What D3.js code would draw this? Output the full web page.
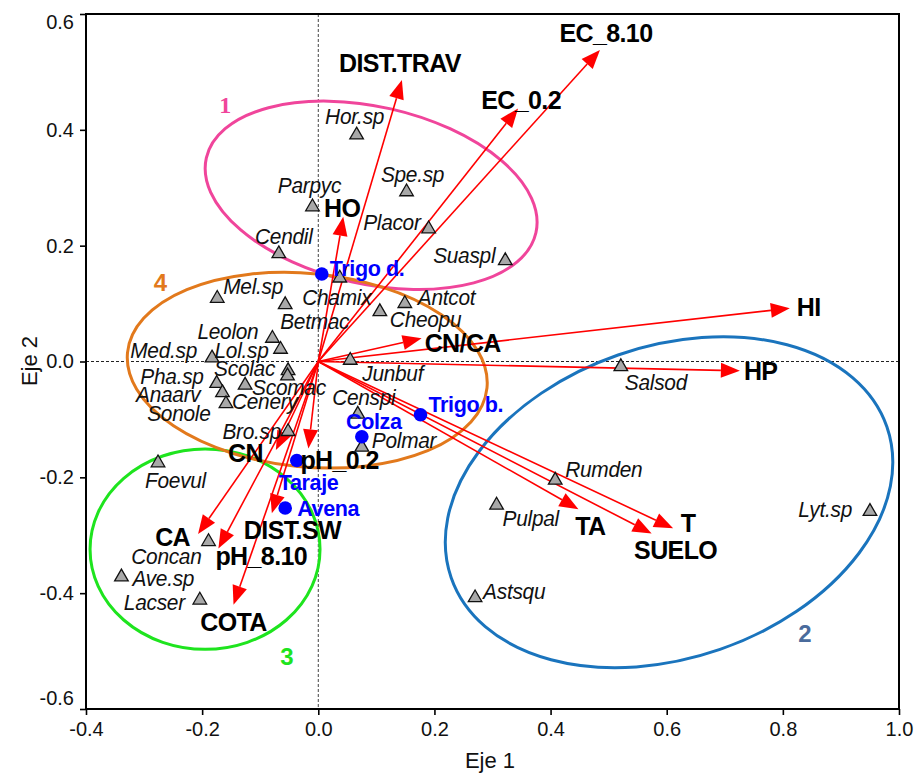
<!DOCTYPE html>
<html>
<head>
<meta charset="utf-8">
<script src="https://cdn.jsdelivr.net/npm/d3@7"></script>
<style>
  body { margin: 0; background: #fff; }
  svg { display: block; font-family: "Liberation Sans", Arial, sans-serif; }
</style>
</head>
<body>
<svg id="chart" width="915" height="773"></svg>
<script>
// ---- Species scores (axis 1, axis 2) ----
const speciesNames = ["Hor.sp","Spe.sp","Parpyc","Placor","Cendil","Suaspl","Chamix","Antcot","Cheopu",
  "Junbuf","Censpi","Polmar","Salsod","Rumden","Pulpal","Astsqu","Lyt.sp","Mel.sp","Betmac","Leolon",
  "Lol.sp","Med.sp","Scolac","Sonole","Scomac","Pha.sp","Anaarv","Cenery","Bro.sp","Foevul","Concan",
  "Ave.sp","Lacser"];
const speciesX = [0.066,0.152,-0.010,0.190,-0.068,0.322,0.037,0.149,0.106,
  0.055,0.068,0.075,0.521,0.408,0.307,0.270,0.950,-0.174,-0.057,-0.079,
  -0.065,-0.183,-0.052,-0.053,-0.126,-0.175,-0.165,-0.159,-0.052,-0.276,-0.189,
  -0.339,-0.204];
const speciesY = [0.391,0.293,0.267,0.229,0.186,0.174,0.144,0.100,0.086,
  0.002,-0.091,-0.148,-0.009,-0.205,-0.248,-0.408,-0.259,0.109,0.098,0.040,
  0.021,0.006,-0.016,-0.025,-0.041,-0.038,-0.054,-0.073,-0.121,-0.175,-0.311,
  -0.372,-0.412];

// ---- Sample scores ----
const sampleNames = ["Trigo d.","Trigo b.","Colza","Taraje","Avena"];
const sampleX = [0.006,0.176,0.075,-0.037,-0.057];
const sampleY = [0.151,-0.092,-0.130,-0.171,-0.253];

// ---- Environmental variables (arrow tips) ----
const varNames = ["DIST.TRAV","EC_8.10","EC_0.2","HO","HI","HP","CN/CA","TA","SUELO","T",
  "pH_0.2","CN","CA","pH_8.10","DIST.SW","COTA"];
const varX = [0.144,0.485,0.344,0.043,0.812,0.726,0.178,0.448,0.574,0.611,
  -0.017,-0.073,-0.207,-0.172,-0.080,-0.146];
const varY = [0.486,0.538,0.437,0.250,0.092,-0.016,0.040,-0.255,-0.297,-0.288,
  -0.150,-0.153,-0.298,-0.323,-0.262,-0.420];

// ---- Axis ticks ----
const xTicks = [-0.4,-0.2,0.0,0.2,0.4,0.6,0.8,1.0];
const yTicks = [-0.6,-0.4,-0.2,0.0,0.2,0.4,0.6];
const xTickLabels = ["-0.4","-0.2","0.0","0.2","0.4","0.6","0.8","1.0"];
const yTickLabels = ["-0.6","-0.4","-0.2","0.0","0.2","0.4","0.6"];

// ---- Group ellipses (centre, semi-axes in axis units, rotation in degrees) ----
const groupIds = ["1","2","3","4"];
const groupEllipses = {
  "1": {cx: 0.091, cy: 0.287, rx: 0.291, ry: 0.153, angle: 12.8, color: "#f0459b",
        lx: -0.160, ly: 0.443, font: "'Liberation Serif', 'Times New Roman', serif", weight: "bold", lcolor: "#f0459b"},
  "2": {cx: 0.604, cy: -0.243, rx: 0.397, ry: 0.269, angle: -19.1, color: "#1a74bd",
        lx: 0.838, ly: -0.469, font: "'Liberation Sans', Arial, sans-serif", weight: "bold", lcolor: "#4a6b9c"},
  "3": {cx: -0.195, cy: -0.324, rx: 0.198, ry: 0.173, angle: 0, color: "#1ee41e",
        lx: -0.054, ly: -0.510, font: "'Liberation Sans', Arial, sans-serif", weight: "bold", lcolor: "#1ee41e"},
  "4": {cx: -0.019, cy: -0.015, rx: 0.311, ry: 0.167, angle: 5.6, color: "#e2791c",
        lx: -0.272, ly: 0.137, font: "'Liberation Sans', Arial, sans-serif", weight: "bold", lcolor: "#e2791c"}
};

// ---- Label placement (pixel offsets from each point, text anchor) ----
const speciesLabelPos = {
  "Hor.sp":["middle",-2,-19], "Spe.sp":["middle",6,-18], "Parpyc":["middle",-3,-22],
  "Placor":["end",-8,-7], "Cendil":["middle",5,-17], "Suaspl":["end",-10,-5],
  "Chamix":["middle",-3,19], "Antcot":["start",13,-6], "Cheopu":["start",10,8],
  "Junbuf":["start",12,13], "Censpi":["middle",6,-17], "Polmar":["start",10,-7],
  "Salsod":["start",4,16], "Rumden":["start",10,-11], "Pulpal":["start",6,13],
  "Astsqu":["start",8,-7], "Lyt.sp":["end",-18,-2], "Mel.sp":["start",6,-12],
  "Betmac":["start",-5,17], "Leolon":["end",-14,-7], "Lol.sp":["end",-12,1],
  "Med.sp":["end",-15,-8], "Scolac":["end",-13,-2], "Sonole":["end",-77,37],
  "Scomac":["start",7,2], "Pha.sp":["end",-13,-7], "Anaarv":["end",-22,2],
  "Cenery":["start",6,-2], "Bro.sp":["end",-7,0], "Foevul":["start",-13,17],
  "Concan":["end",-7,15], "Ave.sp":["start",11,1], "Lacser":["end",-15,2]
};
const sampleLabelPos = {
  "Trigo d.":["start",8,-6], "Trigo b.":["start",8,-10], "Colza":["middle",12,-15],
  "Taraje":["start",-18,22], "Avena":["start",12,0]
};
const varLabelPos = {
  "DIST.TRAV":["middle",-2,-17], "EC_8.10":["middle",6,-17], "EC_0.2":["middle",3,-8],
  "HO":["middle",-1,-8], "HI":["start",7,-1], "HP":["start",4,0], "CN/CA":["start",3,5],
  "TA":["middle",12,17], "T":["middle",15,-5], "SUELO":["middle",24,17],
  "pH_0.2":["start",-8,12], "CN":["end",-13,3], "CA":["end",-8,3],
  "pH_8.10":["start",-3,8], "DIST.SW":["start",-28,17], "COTA":["middle",0,17]
};

// ---- Chart ----
const svg = d3.select("#chart");
const frameL = 86, frameR = 899, frameT = 14, frameB = 709;
const x = d3.scaleLinear().domain([-0.4, 1.0]).range([frameL, frameR]);
const y = d3.scaleLinear().domain([-0.6, 0.6]).range([frameB, frameT]);
const sx = x(1) - x(0), sy = y(0) - y(1);

// zero reference lines
svg.append("line").attr("x1", x(0)).attr("x2", x(0)).attr("y1", frameT).attr("y2", frameB)
  .attr("stroke", "#444").attr("stroke-width", 1).attr("stroke-dasharray", "3,2");
svg.append("line").attr("x1", frameL).attr("x2", frameR).attr("y1", y(0)).attr("y2", y(0))
  .attr("stroke", "#222").attr("stroke-width", 1).attr("stroke-dasharray", "3,2");

// group ellipses
const gEll = svg.append("g");
groupIds.forEach(id => {
  const e = groupEllipses[id];
  gEll.append("ellipse")
    .attr("transform", `translate(${x(e.cx)},${y(e.cy)}) rotate(${e.angle})`)
    .attr("rx", e.rx * sx).attr("ry", e.ry * sy)
    .attr("fill", "none").attr("stroke", e.color).attr("stroke-width", 3);
  gEll.append("text")
    .attr("x", x(e.lx)).attr("y", y(e.ly)).attr("dy", "0.35em")
    .attr("text-anchor", "middle")
    .style("font-family", e.font).style("font-weight", e.weight)
    .style("font-size", "24px")
    .attr("fill", e.lcolor).text(id);
});

// environmental arrows
const gArr = svg.append("g");
const ox = x(0), oy = y(0);
const headLen = 19, headHalf = 7.5;
varNames.forEach((n, i) => {
  const tx = x(varX[i]), ty = y(varY[i]);
  const dx = tx - ox, dy = ty - oy, L = Math.hypot(dx, dy);
  const ux = dx / L, uy = dy / L;
  const bx = tx - ux * headLen, by = ty - uy * headLen;
  gArr.append("line").attr("x1", ox).attr("y1", oy).attr("x2", bx).attr("y2", by)
    .attr("stroke", "#ff0000").attr("stroke-width", 1.6);
  gArr.append("path")
    .attr("d", `M${tx},${ty}L${bx - uy * headHalf},${by + ux * headHalf}L${bx + uy * headHalf},${by - ux * headHalf}Z`)
    .attr("fill", "#ff0000");
});

// species triangles
const tri = d3.symbol().type(d3.symbolTriangle).size(80);
svg.append("g").selectAll("path").data(speciesNames).join("path")
  .attr("d", tri)
  .attr("transform", (d, i) => `translate(${x(speciesX[i])},${y(speciesY[i])})`)
  .attr("fill", "#a8a8a8").attr("stroke", "#111").attr("stroke-width", 1.3);

// sample points
svg.append("g").selectAll("circle").data(sampleNames).join("circle")
  .attr("cx", (d, i) => x(sampleX[i])).attr("cy", (d, i) => y(sampleY[i]))
  .attr("r", 6.8).attr("fill", "#0000ff");

// labels
function addLabel(g, px, py, pos, txt, cls) {
  const [anchor, ddx, ddy] = pos;
  g.append("text")
    .attr("transform", `translate(${px + ddx},${py + ddy}) scale(${cls.scale},1)`)
    .attr("dy", "0.35em").attr("text-anchor", anchor)
    .style("font-size", cls.size).style("font-style", cls.style).style("font-weight", cls.weight)
    .style("letter-spacing", cls.ls)
    .attr("fill", cls.fill).text(txt);
}
const gLab = svg.append("g");
const spStyle = {size: "22px", style: "italic", weight: "normal", fill: "#111", scale: 0.95, ls: "-0.3px"};
const smStyle = {size: "22px", style: "normal", weight: "bold", fill: "#0000ff", scale: 0.98, ls: "-0.4px"};
const vrStyle = {size: "25px", style: "normal", weight: "bold", fill: "#000", scale: 1.0, ls: "-0.6px"};
speciesNames.forEach((n, i) => addLabel(gLab, x(speciesX[i]), y(speciesY[i]), speciesLabelPos[n], n, spStyle));
sampleNames.forEach((n, i) => addLabel(gLab, x(sampleX[i]), y(sampleY[i]), sampleLabelPos[n], n, smStyle));
varNames.forEach((n, i) => addLabel(gLab, x(varX[i]), y(varY[i]), varLabelPos[n], n, vrStyle));

// axes
const gx = svg.append("g").attr("transform", `translate(0,${frameB})`)
  .call(d3.axisBottom(x).tickValues(xTicks).tickFormat((d, i) => xTickLabels[i]).tickSize(6).tickPadding(7));
const gy = svg.append("g").attr("transform", `translate(${frameL},0)`)
  .call(d3.axisLeft(y).tickValues(yTicks).tickFormat((d, i) => yTickLabels[i]).tickSize(6).tickPadding(6));
[gx, gy].forEach(g => {
  g.select(".domain").remove();
  g.selectAll("line").attr("stroke", "#000").attr("stroke-width", 1.6);
  g.selectAll("text").style("font-size", "20px").style("font-family", "'Liberation Sans', Arial, sans-serif").attr("fill", "#111");
});
// end labels of the vertical axis sit inside the frame
gy.selectAll(".tick text").attr("y", d => d === 0.6 ? 8 : (d === -0.6 ? -11 : 0));

// frame
svg.append("rect").attr("x", frameL).attr("y", frameT).attr("width", frameR - frameL).attr("height", frameB - frameT)
  .attr("fill", "none").attr("stroke", "#000").attr("stroke-width", 2);

// axis titles
svg.append("text").attr("x", 490).attr("y", 760).attr("dy", "0.35em").attr("text-anchor", "middle")
  .style("font-size", "22px").attr("fill", "#111").text("Eje 1");
svg.append("text").attr("transform", "translate(29,361) rotate(-90)").attr("dy", "0.35em")
  .attr("text-anchor", "middle").style("font-size", "22px").attr("fill", "#111").text("Eje 2");
</script>
</body>
</html>
